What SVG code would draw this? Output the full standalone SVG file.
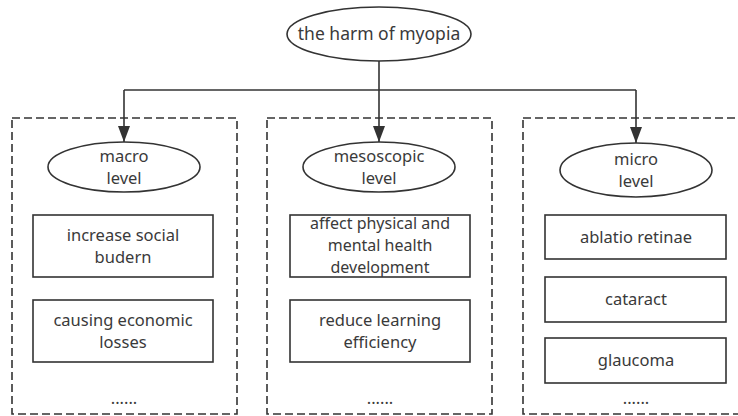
<svg xmlns="http://www.w3.org/2000/svg" width="738" height="416" viewBox="0 0 738 416">
<defs>
<style>
.t{font-family:"Noto Sans","Open Sans",sans-serif;font-size:16.5px;fill:#3a3a3a;text-anchor:middle}
.s{font-size:16px}
.tt{font-family:"Noto Sans","Open Sans",sans-serif;font-size:17.5px;fill:#3a3a3a;text-anchor:middle}
.sh{fill:#fff;stroke:#333;stroke-width:1.6}
.grp{fill:none;stroke:#333;stroke-width:1.6;stroke-dasharray:8 4}
.ln{fill:none;stroke:#333;stroke-width:1.6}
</style>
<marker id="ah" markerWidth="16" markerHeight="12" refX="10" refY="5" orient="auto" markerUnits="userSpaceOnUse" viewBox="0 0 10 10" preserveAspectRatio="none">
<path d="M0,0 L10,5 L0,10 Z" fill="#333"/>
</marker>
</defs>
<rect width="738" height="416" fill="#fff"/>
<g id="groups">
<rect class="grp" x="12" y="118" width="225" height="296"/>
<rect class="grp" x="267" y="118" width="225" height="296"/>
<rect class="grp" x="523" y="118" width="225" height="296"/>
</g>
<g id="connectors">
<path class="ln" d="M379,61 V90"/>
<path class="ln" d="M124,90 H636"/>
<path class="ln" d="M124,90 V142" marker-end="url(#ah)"/>
<path class="ln" d="M379,90 V142" marker-end="url(#ah)"/>
<path class="ln" d="M636,90 V143" marker-end="url(#ah)"/>
</g>
<g id="root">
<ellipse class="sh" cx="379" cy="34" rx="92" ry="27"/>
<text class="tt" x="379" y="40">the harm of myopia</text>
</g>
<g id="macro">
<ellipse class="sh" cx="124" cy="167" rx="76" ry="25"/>
<text class="t" x="124" y="162">macro</text>
<text class="t" x="124" y="184">level</text>
</g>
<g id="macro-1">
<rect class="sh" x="33" y="215" width="180" height="62"/>
<text class="t" x="123" y="241">increase social</text>
<text class="t" x="123" y="263">budern</text>
</g>
<g id="macro-2">
<rect class="sh" x="33" y="300" width="180" height="62"/>
<text class="t" x="123" y="326">causing economic</text>
<text class="t" x="123" y="348">losses</text>
</g>
<text class="t" x="124" y="404">......</text>
<g id="meso">
<ellipse class="sh" cx="379" cy="167" rx="76" ry="25"/>
<text class="t" x="379" y="162">mesoscopic</text>
<text class="t" x="379" y="184">level</text>
</g>
<g id="meso-1">
<rect class="sh" x="290" y="215" width="180" height="62"/>
<text class="t s" x="380" y="229">affect physical and</text>
<text class="t s" x="380" y="251">mental health</text>
<text class="t s" x="380" y="273">development</text>
</g>
<g id="meso-2">
<rect class="sh" x="290" y="300" width="180" height="62"/>
<text class="t" x="380" y="326">reduce learning</text>
<text class="t" x="380" y="348">efficiency</text>
</g>
<text class="t" x="380" y="404">......</text>
<g id="micro">
<ellipse class="sh" cx="636" cy="170" rx="76" ry="27"/>
<text class="t" x="636" y="165">micro</text>
<text class="t" x="636" y="187">level</text>
</g>
<g id="micro-1">
<rect class="sh" x="545" y="215" width="181" height="44"/>
<text class="t" x="636" y="243">ablatio retinae</text>
</g>
<g id="micro-2">
<rect class="sh" x="545" y="277" width="181" height="45"/>
<text class="t" x="636" y="305">cataract</text>
</g>
<g id="micro-3">
<rect class="sh" x="545" y="338" width="181" height="45"/>
<text class="t" x="636" y="366">glaucoma</text>
</g>
<text class="t" x="636" y="404">......</text>
</svg>
